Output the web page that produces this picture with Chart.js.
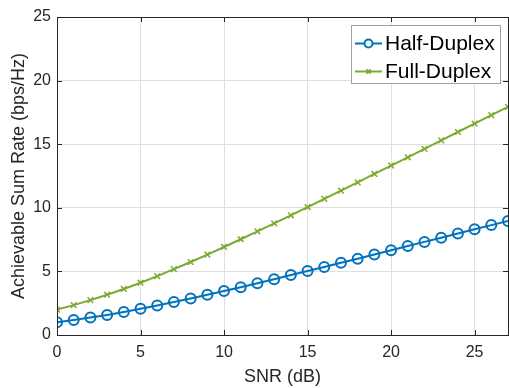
<!DOCTYPE html>
<html>
<head>
<meta charset="utf-8">
<script src="https://cdn.jsdelivr.net/npm/chart.js@4.4.1/dist/chart.umd.min.js"></script>
<style>
  html, body { margin: 0; padding: 0; background: #ffffff; overflow: hidden; }
  #wrap { width: 509px; height: 388px; overflow: hidden; position: relative; }
  #box { width: 515px; height: 388px; position: absolute; left: 0; top: 0; }
</style>
</head>
<body>
<div id="wrap"><div id="box"><canvas id="c"></canvas></div></div>
<script>
const snr = [0,1,2,3,4,5,6,7,8,9,10,11,12,13,14,15,16,17,18,19,20,21,22,23,24,25,26,27];
const halfDuplex = [1.00,1.18,1.37,1.58,1.81,2.06,2.32,2.59,2.87,3.16,3.46,3.76,4.07,4.39,4.71,5.03,5.35,5.68,6.00,6.33,6.66,6.99,7.32,7.65,7.98,8.31,8.64,8.97];
const fullDuplex = [2.00,2.35,2.74,3.17,3.62,4.11,4.63,5.18,5.74,6.32,6.92,7.53,8.15,8.78,9.41,10.06,10.70,11.35,12.00,12.66,13.32,13.97,14.63,15.30,15.96,16.62,17.28,17.94];
const seriesNames = ['Half-Duplex', 'Full-Duplex'];
const xTicks = [0,5,10,15,20,25];
const yTicks = [0,5,10,15,20,25];

const BLUE = '#0072BD', GREEN = '#77AC30', AX = '#262626', GRID = '#dfdfdf';
const FONT = 'Liberation Sans, Arial, Helvetica, sans-serif';

const boxPlugin = {
  id: 'boxPlugin',
  afterDraw(chart) {
    const ctx = chart.ctx, a = chart.chartArea;
    const xs = chart.scales.x, ys = chart.scales.y;
    ctx.save();
    ctx.strokeStyle = AX; ctx.lineWidth = 1;
    ctx.strokeRect(Math.round(a.left) + 0.5, Math.round(a.top) + 0.5, Math.round(a.right - a.left), Math.round(a.bottom - a.top));
    ctx.beginPath();
    const tl = 5;
    xTicks.forEach(v => {
      const px = Math.round(xs.getPixelForValue(v)) + 0.5;
      ctx.moveTo(px, a.bottom); ctx.lineTo(px, a.bottom - tl);
      ctx.moveTo(px, a.top); ctx.lineTo(px, a.top + tl);
    });
    yTicks.forEach(v => {
      const py = Math.round(ys.getPixelForValue(v)) + 0.5;
      ctx.moveTo(a.left, py); ctx.lineTo(a.left + tl, py);
      ctx.moveTo(a.right, py); ctx.lineTo(a.right - tl, py);
    });
    ctx.stroke();

    // legend
    const lx = 351.5, ly = 25.5, lw = 149, lh = 58;
    ctx.fillStyle = '#ffffff';
    ctx.fillRect(lx, ly, lw, lh);
    ctx.strokeStyle = '#a0a0a0';
    ctx.strokeRect(lx, ly, lw, lh);
    const rows = [43.5, 71.5];
    chart.data.datasets.forEach((ds, i) => {
      const y = rows[i];
      ctx.strokeStyle = ds.borderColor; ctx.lineWidth = ds.borderWidth;
      ctx.beginPath(); ctx.moveTo(355, y); ctx.lineTo(382, y); ctx.stroke();
      Chart.helpers.drawPoint(ctx, {
        pointStyle: ds.pointStyle, radius: i === 0 ? 4 : 3, borderWidth: 1.5
      }, 368.5, y);
      ctx.fillStyle = '#000000';
      ctx.font = '21px ' + FONT;
      ctx.textBaseline = 'middle';
      ctx.textAlign = 'left';
      ctx.fillText(ds.label, 385, y + 1);
    });
    ctx.restore();
  }
};

new Chart(document.getElementById('c'), {
  type: 'line',
  data: {
    datasets: [
      { label: seriesNames[0], data: snr.map((x, i) => ({x, y: halfDuplex[i]})),
        borderColor: BLUE, backgroundColor: 'rgba(0,0,0,0)', borderWidth: 2,
        pointStyle: 'circle', pointRadius: 5, pointBorderWidth: 2,
        pointBackgroundColor: 'rgba(0,0,0,0)', pointBorderColor: BLUE, tension: 0 },
      { label: seriesNames[1], data: snr.map((x, i) => ({x, y: fullDuplex[i]})),
        borderColor: GREEN, backgroundColor: GREEN, borderWidth: 2,
        pointStyle: 'crossRot', pointRadius: 4, pointBorderWidth: 1.5,
        pointBorderColor: GREEN, tension: 0 }
    ]
  },
  options: {
    responsive: true, maintainAspectRatio: false, animation: false,
    layout: { padding: { left: 0, right: 5, top: 17, bottom: 0 } },
    plugins: { legend: { display: false }, tooltip: { enabled: false } },
    scales: {
      x: {
        type: 'linear', min: 0, max: 27,
        afterBuildTicks: s => { s.ticks = xTicks.map(v => ({value: v})); },
        afterFit: s => { s.height = 53; },
        grid: { color: GRID, drawTicks: false },
        border: { display: true, color: AX },
        ticks: { color: AX, font: { size: 16, family: FONT }, padding: 8 },
        title: { display: true, text: 'SNR (dB)', color: AX, font: { size: 18, family: FONT }, padding: { top: 2, bottom: 0 } }
      },
      y: {
        type: 'linear', min: 0, max: 25,
        afterBuildTicks: s => { s.ticks = yTicks.map(v => ({value: v})); },
        afterFit: s => { s.width = 57; },
        grid: { color: GRID, drawTicks: false },
        border: { display: true, color: AX },
        ticks: { color: AX, font: { size: 16, family: FONT }, padding: 6 },
        title: { display: true, text: 'Achievable Sum Rate (bps/Hz)', color: AX, font: { size: 18, family: FONT }, padding: { top: 8, bottom: 0 } }
      }
    }
  },
  plugins: [boxPlugin]
});
</script>
</body>
</html>
